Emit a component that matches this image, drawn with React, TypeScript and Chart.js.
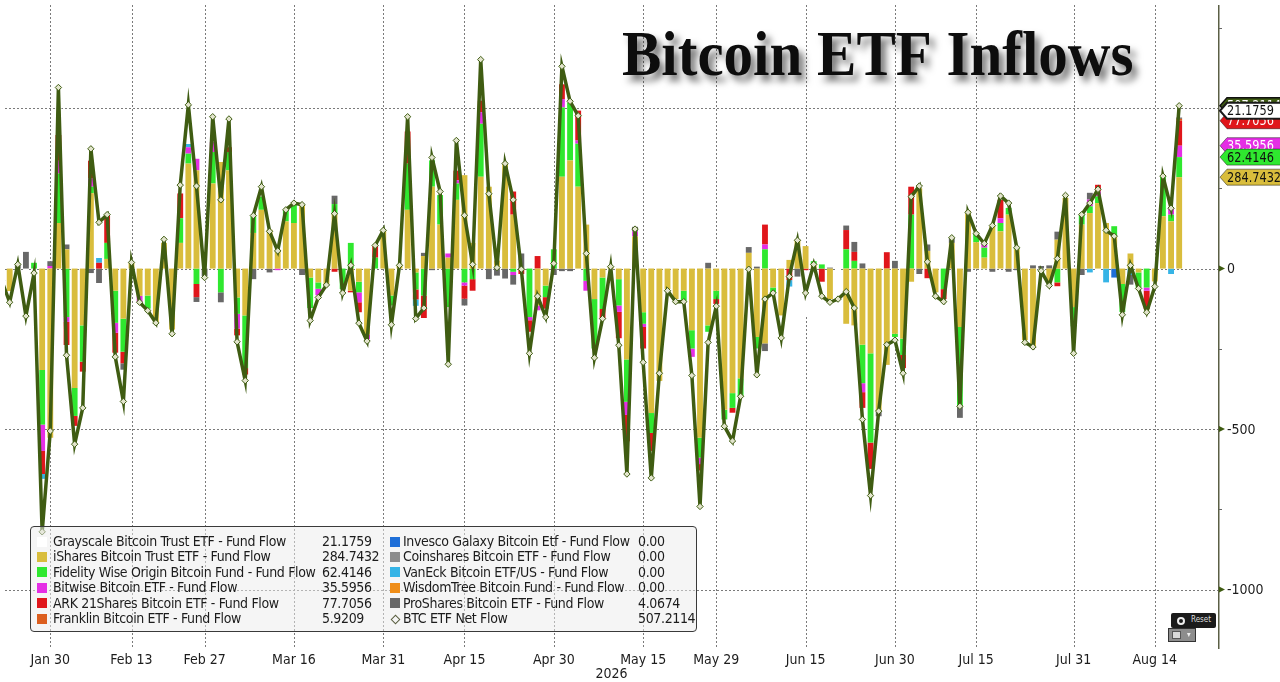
import React, { useEffect, useRef } from "react";
import { Chart, registerables } from "chart.js";

Chart.register(...registerables);

// ---------- data ----------
const title = "Bitcoin ETF Inflows";
const yearLabel = "2026";
const tickIndex = [6, 16, 25, 36, 47, 57, 68, 79, 88, 99, 110, 120, 132, 142];
const tickLabels = ["Jan 30", "Feb 13", "Feb 27", "Mar 16", "Mar 31", "Apr 15", "Apr 30", "May 15", "May 29", "Jun 15", "Jun 30", "Jul 15", "Jul 31", "Aug 14"];
const yGridValues = [500, 0, -500, -1000];
const yLabelValues = [0, -500, -1000];
const yMinorValues = [750, 250, -250, -750];

const netFlow = [
  -36,
  -105, 13, -148, -14, -820, -506, 564, -270, -547, -434,
  373, 144, 168, -275, -414, 19, -105, -131, -169, 91,
  -203, 260, 510, 257, -28, 473, 214, 466, -228, -349,
  165, 255, 116, 55, 183, 204, 199, -162, -90, -51,
  171, -76, 10, -170, -226, 72, 119, -175, 10, 473,
  -156, -123, 346, 240, -298, 399, 166, 13, 651, 233,
  3, 327, 214, -2, -264, -86, -151, 16, 630, 521,
  476, 47, -278, -156, 6, -239, -640, 123, -292, -652,
  -326, -69, -103, -103, -333, -741, -230, -117, -491, -537,
  -398, -2, -331, -95, -76, -216, -25, 88, -76, 13,
  -86, -105, -95, -72, -123, -470, -707, -444, -237, -223,
  -326, 224, 257, 21, -86, -103, 96, -429, 175, 109,
  78, 134, 226, 204, 65, -230, -244, -7, -53, 31,
  228, -264, 168, 204, 247, 119, 101, -144, 10, -62,
  -136, -56, 288, 188, 507.2114,
];

const iShares = [
  -30,
  -70, 0, 0, 0, -316, -527, 142, 60, -372, -177,
  235, 0, 30, -69, -156, 19, -85, -84, -167, 80,
  -190, 80, 327, 306, 0, 265, 332, 306, -90, -146,
  111, 183, 121, 60, 147, 142, 200, -28, -43, -48,
  170, 0, -69, -41, -205, 0, 119, -84, 10, 183,
  -12, 39, 255, 137, 34, 214, 291, 80, 286, 255,
  25, 330, 168, 0, 0, -115, -53, 0, 286, 337,
  255, 137, -95, -28, 6, -33, -283, 100, -136, -450,
  -350, -64, -95, -69, -192, -527, -177, -69, -440, -388,
  -342, 49, -213, -233, -59, -146, 27, 90, 70, 13,
  0, -95, 0, -172, -177, -237, -264, -445, -300, -203,
  -218, -41, 250, 55, -74, 0, 80, -182, 180, 82,
  34, 134, 116, 168, 60, -223, -244, 0, -40, 90,
  220, -120, 137, 173, 204, 142, 101, -48, 47, -12,
  0, -40, 163, 147, 284.7432,
];

const fidelity = [
  0,
  0, 0, 0, 18, -170, 0, 154, -151, -87, -113,
  20, 0, 50, -100, -103, 0, 0, -41, 0, 0,
  0, 77, 31, -48, 0, 98, -74, 57, -51, -164,
  51, 41, 0, 0, 36, 60, 0, -95, -20, 0,
  31, -64, 80, -33, 0, 34, 0, -31, 0, 144,
  -53, -84, 82, 92, -120, 51, -43, -33, 165, 0,
  0, 0, -10, 0, -151, 0, -36, 60, 216, 180,
  134, -38, -154, -98, 0, -82, -132, 0, -36, -62,
  0, 0, 0, -31, -57, -62, -20, -26, -30, -46,
  -57, 0, -36, 60, -15, 0, 0, 0, 0, 10,
  13, 0, 0, 60, 24, -120, -278, 0, 0, -10,
  -51, 168, 0, 0, 0, -64, 0, -247, 0, 27,
  31, 0, 26, 21, 5, 0, 0, 0, 0, -43,
  0, -60, 31, 21, 21, 0, 31, -87, 0, -47,
  -59, 0, 126, 21, 62.4146,
];

const bitwise = [
  0,
  0, 0, 0, 0, -82, 8, 40, -15, 0, 0,
  26, 0, 0, -31, 0, 0, -20, 0, 0, 0,
  0, 0, 20, 36, 0, 31, 0, 0, -46, 0,
  0, 0, 0, -5, 0, 0, 0, 0, -20, 0,
  0, 0, 0, -31, -15, 0, 0, 0, 0, 0,
  0, 0, 0, 0, 13, 10, -10, 0, 36, 0,
  0, 0, -10, 0, -10, -15, 0, 0, 26, 0,
  10, -31, 0, 0, 0, -20, -41, 15, -10, 0,
  0, 0, 0, 0, -26, -20, 0, 0, 0, 0,
  0, 0, 0, 15, 0, 0, 0, 0, 0, 0,
  0, 0, 0, 0, 0, -28, 0, 0, 0, 0,
  0, 0, 0, 0, 0, 0, 0, 0, 0, 0,
  15, 0, 15, 0, 0, 0, 0, 0, 0, 0,
  0, 0, 0, 21, 15, 0, 0, 0, 0, 0,
  -10, 0, 0, 21, 35.5956,
];

const ark = [
  0,
  0, 0, 0, 0, -72, 0, 80, -72, -31, -31,
  55, 18, 85, -62, -36, 0, 0, 0, 0, 0,
  0, 77, 0, -41, 0, 0, 0, 15, -21, -20,
  0, 0, 0, 0, 0, 0, 0, 0, 0, 0,
  -10, 0, -5, -31, 0, 36, 0, 0, 0, 100,
  -31, -70, 0, 0, 0, 30, -41, -36, 36, 0,
  0, 0, 72, -17, -36, 39, -36, 0, 46, 0,
  93, 0, 0, -31, 0, -82, -82, 0, -67, -56,
  0, 0, 0, 0, 0, -20, 0, -15, 0, -15,
  0, 0, 0, 62, 0, 0, -36, 0, -5, 0,
  -41, 0, 0, 60, 28, -49, -82, 0, 51, 0,
  -41, 87, 0, -30, 0, -31, 0, 0, 0, 0,
  0, 0, 57, 0, 0, 0, 0, 0, 0, -12,
  0, 0, 0, 0, 21, 0, 0, 0, 0, 0,
  -57, 0, 0, 0, 77.7056,
];

const franklin = [
  0,
  0, 0, 0, 0, 0, 0, 0, 0, 0, 0, 0, 0, 0, 0, 0, 0, 0, 0, 0, 0,
  0, 0, 0, 0, 0, 0, 0, 0, 0, 0, 0, 0, 0, 0, 0, 0, 0, 0, 0, 0,
  0, 0, 0, 0, 0, 0, 0, 0, 0, 0, 0, 0, 0, 0, 0, 0, 0, 0, 0, 0,
  0, 0, 0, 0, 0, 0, 0, 0, 0, 0, 0, 0, 0, 0, 0, 0, 0, 0, 0, 0,
  0, 0, 0, 0, 0, 0, 0, 0, 0, 0, 0, 0, 0, 0, 0, 0, 0, 0, 0, 0,
  0, 0, 0, 0, 0, 0, 0, 0, 0, 0, 0, 0, 0, 0, 0, 0, 0, 0, 0, 0,
  0, 0, 0, 0, 0, 0, 0, 0, 0, 0, 0, 0, 0, 0, 0, 0, 0, 0, 0, 0,
  0, 0, 0, 0, 5.9209,
];

const invesco = [
  0,
  0, 0, 0, 0, 0, 0, 0, 0, 0, 0, 0, 0, 0, 0, 0, 0, 0, 0, 0, 0,
  0, 0, 0, 0, 0, 0, 0, 0, 0, 0, 0, 0, 0, 0, 0, 0, 0, 0, 0, 0,
  0, 0, 0, 0, 0, 0, 0, 0, 0, 0, 0, 0, 0, 0, 0, 0, 0, 0, 0, 0,
  0, 0, 0, 0, 0, 0, 0, 0, 0, 0, 0, 0, 0, 0, 0, 0, 0, 0, 0, 0,
  0, 0, 0, 0, 0, 0, 0, 0, 0, 0, 0, 0, 0, 0, 0, 0, 0, 0, 0, 0,
  0, 0, 0, 0, 0, 0, 0, 0, 0, 0, 0, 0, 0, 0, 0, 0, 0, 0, 0, 0,
  0, 0, 0, 0, 0, 0, 0, 0, 0, 0, 0, 0, 0, 0, 0, 0, -28, 0, 0, 0,
  0, 0, 0, 0, 0,
];

const vanEck = [
  0,
  0, 0, 0, 0, -15, 0, 0, 0, 0, 0, 0, 15, 0, 0, 0, 0, 0, 0, 0, 0,
  0, 0, 10, 0, 0, 0, 0, 0, 0, 0, 0, 0, 0, 0, 0, 0, 0, 0, 0, 0,
  0, 0, 0, 0, 0, 0, 0, 0, 0, 0, -20, 0, 0, 0, 0, 0, 0, 0, 0, 0,
  0, 0, 0, 0, 0, 0, 0, 0, 0, 0, 0, 0, 0, 0, 0, 0, 0, 0, 0, 0,
  0, 0, 0, 0, 0, 0, 0, 0, 0, 0, 0, 0, 0, 0, 0, 0, -20, 0, 0, 0,
  0, 0, 0, 0, 0, 0, 0, 0, 0, 0, 0, 0, 0, 0, 0, 0, 0, 0, 0, 0,
  0, 0, 0, 0, 0, 0, 0, 0, 0, 0, 0, 0, 0, -12, 0, -43, 0, 0, -20, 0,
  0, 0, 0, -17, 0,
];

const wisdomTree = [
  0,
  0, 0, 0, 0, 0, 0, 0, 0, 0, 0, 0, 0, 0, 0, 0, 0, 0, 0, 0, 0,
  0, 0, 0, 0, 0, 0, 0, 0, 0, 0, 0, 0, 0, 0, 0, 0, 0, 0, 0, 0,
  0, 0, 0, 0, 0, 0, 0, 0, 0, 0, 0, 0, 0, 0, 0, 0, 0, 0, 0, 0,
  0, 0, 0, 0, 0, 0, 0, 0, 0, 0, 0, 0, 0, 0, 0, 0, 0, 0, 0, 0,
  0, 0, 0, 0, 0, 0, 0, 0, 0, 0, 0, 0, 0, 0, 0, 0, 0, 0, 0, 0,
  0, 0, 0, 0, 0, 0, 0, 0, 0, 0, 0, 0, 0, 0, 0, 0, 0, 0, 0, 0,
  0, 0, 0, 0, 0, 0, 0, 0, 0, 0, 0, 0, 0, 0, 0, 0, 0, 0, 0, 0,
  0, 0, 0, 0, 0,
];

const coinshares = [
  0,
  0, 0, 0, 0, 0, 0, 0, 0, 0, 0, 0, 0, 0, 0, 0, 0, 0, 0, 0, 0,
  0, 0, 0, 0, 0, 0, 0, 0, 0, 0, 0, 0, 0, 0, 0, 0, 0, 0, 0, 0,
  0, 0, 0, 0, 0, 0, 0, 0, 0, 0, 0, 0, 0, 0, 0, 0, 0, 0, 0, 0,
  0, 0, 0, 0, 0, 0, 0, 0, 0, 0, 0, 0, 0, 0, 0, 0, 0, 0, 0, 0,
  0, 0, 0, 0, 0, 0, 0, 0, 0, 0, 0, 0, 0, 0, 0, 0, 0, 0, 0, 0,
  0, 0, 0, 0, 0, 0, 0, 0, 0, 0, 0, 0, 0, 0, 0, 0, 0, 0, 0, 0,
  0, 0, 0, 0, 0, 0, 0, 0, 0, 0, 0, 0, 0, 0, 0, 0, 0, 0, 0, 0,
  0, 0, 0, 0, 0,
];

const proShares = [
  0,
  0, 15, 52, 0, 0, 15, 0, 15, 0, 0,
  -14, -45, 0, 0, -20, 0, 0, 0, 0, 0,
  0, 0, 0, -15, -23, 0, -31, 0, 0, 0,
  -33, 0, -12, 0, 0, 0, -20, 0, 0, 0,
  26, 0, 0, 0, 0, 0, 0, 0, 0, 0,
  0, 10, -5, 0, 0, 0, -21, 0, 0, -33,
  -22, -31, -30, 47, 0, 0, 0, -20, -8, -8,
  0, 0, 0, 0, 0, 0, 0, 15, 0, 0,
  0, 0, 0, 0, 0, 0, 18, 0, 0, 0,
  0, 18, 6, -24, 0, 0, 0, -25, 0, 0,
  0, 3, 0, 14, 31, 16, 0, -15, 0, 24,
  0, 0, -17, 20, 0, 0, 15, -36, -10, 0,
  0, -10, 0, -10, -5, 0, 10, 8, 10, 25,
  0, 0, -20, 21, 0, 0, 0, 0, -30, 0,
  0, 0, 0, 0, 4.0674,
];

const grayscale = [
  -6,
  -35, -2, -200, -32, -165, -2, 148, -107, -57, -113,
  51, 156, 3, -13, -99, 0, 0, -6, -2, 11,
  -13, 26, 122, 19, -5, 79, -13, 88, -20, -19,
  36, 31, 7, 0, 0, 2, 19, -39, -7, -3,
  -46, -12, 4, -34, -6, 2, 0, -60, 0, 46,
  -40, -18, 14, 11, -225, 94, -10, 2, 128, 11,
  0, 28, 24, -32, -67, 5, -26, -24, 64, 12,
  -16, -21, -29, 1, 0, -22, -102, -7, -43, -84,
  24, -5, -8, -3, -58, -112, -51, -7, -21, -88,
  1, -69, -88, 25, -2, -70, 4, 23, -141, -10,
  -58, -13, -95, -34, -29, -52, -83, 16, 12, -34,
  -16, 10, 24, -24, -12, -8, 1, 36, 5, 0,
  -2, 10, 12, 25, 5, -7, -10, -15, -23, -29,
  8, -84, 20, -20, -14, 20, -3, -9, 13, -3,
  -10, -16, -1, 16, 21.1759,
];

// ---------- styling ----------
const FONT = '"Liberation Sans Narrow", "Arial Narrow", "DejaVu Sans Condensed", sans-serif';
const LINE_COLOR = "#3f5c12";
const X_MIN = 0.424;
const X_MAX = 149.78;
const Y_MIN = -1185;
const Y_MAX = 821;

type Series = { key: string; name: string; data: number[]; color: string; tagText?: string };

const S: Record<string, Series> = {
  grayscale: { key: "grayscale", name: "Grayscale Bitcoin Trust ETF - Fund Flow", data: grayscale, color: "#ffffff", tagText: "#111" },
  iShares: { key: "iShares", name: "iShares Bitcoin Trust ETF - Fund Flow", data: iShares, color: "#d9bd3c", tagText: "#111" },
  fidelity: { key: "fidelity", name: "Fidelity Wise Origin Bitcoin Fund - Fund Flow", data: fidelity, color: "#2fe82f", tagText: "#111" },
  bitwise: { key: "bitwise", name: "Bitwise Bitcoin ETF - Fund Flow", data: bitwise, color: "#e52ee5", tagText: "#fff" },
  ark: { key: "ark", name: "ARK 21Shares Bitcoin ETF - Fund Flow", data: ark, color: "#e0161b", tagText: "#fff" },
  franklin: { key: "franklin", name: "Franklin Bitcoin ETF - Fund Flow", data: franklin, color: "#dc5e1e" },
  invesco: { key: "invesco", name: "Invesco Galaxy Bitcoin Etf - Fund Flow", data: invesco, color: "#1f6fd8" },
  coinshares: { key: "coinshares", name: "Coinshares Bitcoin ETF - Fund Flow", data: coinshares, color: "#8c8c8c" },
  vanEck: { key: "vanEck", name: "VanEck Bitcoin ETF/US - Fund Flow", data: vanEck, color: "#36b4e6" },
  wisdomTree: { key: "wisdomTree", name: "WisdomTree Bitcoin Fund - Fund Flow", data: wisdomTree, color: "#ef8d18" },
  proShares: { key: "proShares", name: "ProShares Bitcoin ETF - Fund Flow", data: proShares, color: "#686868" },
};

const stackOrder = ["iShares", "fidelity", "bitwise", "ark", "franklin", "invesco", "vanEck", "wisdomTree", "coinshares", "proShares", "grayscale"];
const legendCol1 = ["grayscale", "iShares", "fidelity", "bitwise", "ark", "franklin"];
const legendCol2 = ["invesco", "coinshares", "vanEck", "wisdomTree", "proShares"];
const tagOrder = ["ark", "grayscale", "bitwise", "fidelity", "iShares"];

const fmt = (v: number) => (v === 0 ? "0.00" : v.toFixed(4));
const last = (a: number[]) => a[a.length - 1];

function drawTag(ctx: CanvasRenderingContext2D, x: number, yc: number, fill: string, stroke: string, text: string, textColor: string, lw = 1) {
  const h = 8;
  ctx.save();
  ctx.beginPath();
  ctx.moveTo(x, yc);
  ctx.lineTo(x + 7, yc - h);
  ctx.lineTo(x + 80, yc - h);
  ctx.lineTo(x + 80, yc + h);
  ctx.lineTo(x + 7, yc + h);
  ctx.closePath();
  ctx.fillStyle = fill;
  ctx.fill();
  ctx.lineWidth = lw;
  ctx.strokeStyle = stroke;
  ctx.stroke();
  ctx.fillStyle = textColor;
  ctx.font = `14px ${FONT}`;
  ctx.textBaseline = "middle";
  ctx.textAlign = "left";
  ctx.translate(x + 7, yc + 1);
  ctx.scale(0.9, 1);
  ctx.fillText(text, 0, 0);
  ctx.restore();
}

const decor = {
  id: "decor",
  beforeDatasetsDraw(chart: any) {
    const { ctx, chartArea: a, scales } = chart;
    const x = scales.x, y = scales.y;
    ctx.save();
    ctx.strokeStyle = "#7a7a7a";
    ctx.lineWidth = 1;
    ctx.setLineDash([2, 2]);
    for (const v of tickIndex) {
      const px = Math.round(x.getPixelForValue(v)) + 0.5;
      ctx.beginPath();
      ctx.moveTo(px, a.top);
      ctx.lineTo(px, a.bottom);
      ctx.stroke();
    }
    for (const v of yGridValues) {
      const py = Math.round(y.getPixelForValue(v)) + 0.5;
      ctx.beginPath();
      ctx.moveTo(a.left, py);
      ctx.lineTo(a.right, py);
      ctx.stroke();
    }
    ctx.restore();
  },
  afterDraw(chart: any) {
    const { ctx, chartArea: a, scales } = chart;
    const x = scales.x, y = scales.y;
    ctx.save();
    // y axis line
    ctx.strokeStyle = "#5b5f45";
    ctx.lineWidth = 1.5;
    ctx.beginPath();
    ctx.moveTo(a.right + 0.75, a.top);
    ctx.lineTo(a.right + 0.75, a.bottom);
    ctx.stroke();
    // minor ticks
    ctx.lineWidth = 1;
    ctx.strokeStyle = "#666";
    for (const v of yMinorValues) {
      const py = Math.round(y.getPixelForValue(v)) + 0.5;
      ctx.beginPath();
      ctx.moveTo(a.right + 1, py);
      ctx.lineTo(a.right + 4, py);
      ctx.stroke();
    }
    // major tick arrows + labels
    ctx.font = `14px ${FONT}`;
    ctx.textBaseline = "middle";
    ctx.textAlign = "left";
    for (const v of yLabelValues) {
      const py = y.getPixelForValue(v);
      ctx.fillStyle = "#3f5c12";
      ctx.beginPath();
      ctx.moveTo(a.right + 1, py - 3);
      ctx.lineTo(a.right + 7, py);
      ctx.lineTo(a.right + 1, py + 3);
      ctx.closePath();
      ctx.fill();
      ctx.fillStyle = "#1c1c1c";
      ctx.fillText(String(v), a.right + 9, py + 1);
    }
    // x labels
    ctx.textAlign = "center";
    ctx.fillStyle = "#1c1c1c";
    tickIndex.forEach((v, i) => {
      ctx.fillText(tickLabels[i], x.getPixelForValue(v), a.bottom + 11);
    });
    ctx.fillText(yearLabel, (a.left + a.right) / 2, a.bottom + 25);
    // title
    ctx.save();
    ctx.font = `bold 59px "Liberation Serif", "Times New Roman", serif`;
    ctx.textAlign = "left";
    ctx.textBaseline = "alphabetic";
    ctx.shadowColor = "rgba(0,0,0,0.55)";
    ctx.shadowBlur = 7;
    ctx.shadowOffsetX = 5;
    ctx.shadowOffsetY = 6;
    ctx.fillStyle = "#0d0d0d";
    ctx.translate(622, 75);
    ctx.scale(1, 1.08);
    ctx.fillText(title, 0, 0);
    ctx.restore();
    // value tags at right
    const lastIdx = netFlow.length - 1;
    const lineMeta = chart.getDatasetMeta(stackOrder.length);
    const netY = lineMeta.data[lastIdx].y;
    drawTag(ctx, a.right + 2, netY, LINE_COLOR, "#111", fmt(last(netFlow)), "#fff", 1.5);
    for (const k of tagOrder) {
      const di = stackOrder.indexOf(k);
      const el = chart.getDatasetMeta(di).data[lastIdx];
      const s = S[k];
      const isGray = k === "grayscale";
      drawTag(ctx, a.right + 2, el.y, s.color, isGray ? "#1a1a1a" : "rgba(0,0,0,0.45)", fmt(last(s.data)), s.tagText || "#111", isGray ? 2 : 1);
    }
    ctx.restore();
  },
};

const txt: React.CSSProperties = { position: "absolute", whiteSpace: "nowrap", lineHeight: "15px", letterSpacing: "-0.35px" };

function LegendRow({ left, top, swatch, label, value, valueLeft }: any) {
  return (
    <>
      {swatch}
      <span style={{ ...txt, left, top }}>{label}</span>
      <span style={{ ...txt, left: valueLeft, top }}>{value}</span>
    </>
  );
}

export default function App() {
  const ref = useRef<HTMLCanvasElement>(null);

  useEffect(() => {
    document.body.style.margin = "0";
    const canvas = ref.current;
    if (!canvas) return;
    const barSets = stackOrder.map((k) => ({
      type: "bar" as const,
      label: S[k].name,
      data: S[k].data.map((v, i) => ({ x: i, y: v })),
      backgroundColor: S[k].color,
      borderWidth: 0,
      barPercentage: 0.9,
      categoryPercentage: 0.8,
      order: 2,
    }));
    const lineSet = {
      type: "line" as const,
      label: "BTC ETF Net Flow",
      data: netFlow.map((v, i) => ({ x: i, y: v })),
      borderColor: LINE_COLOR,
      borderWidth: 3.5,
      pointStyle: "rectRot" as const,
      pointRadius: 3.2,
      pointBackgroundColor: "#e2e4cc",
      pointBorderColor: LINE_COLOR,
      pointBorderWidth: 1,
      tension: 0,
      order: 1,
      stack: "net",
    };
    const chart = new Chart(canvas, {
      type: "bar",
      data: { datasets: [...barSets, lineSet] as any },
      options: {
        animation: false,
        responsive: false,
        devicePixelRatio: 1,
        layout: { padding: 0 },
        plugins: { legend: { display: false }, tooltip: { enabled: false } },
        scales: {
          x: {
            type: "linear",
            min: X_MIN,
            max: X_MAX,
            offset: false,
            stacked: true,
            grid: { display: false, offset: false },
            border: { display: false },
            ticks: { display: false },
            afterFit: (s: any) => {
              s.height = 33;
            },
          },
          y: {
            type: "linear",
            position: "right",
            min: Y_MIN,
            max: Y_MAX,
            stacked: true,
            grid: { display: false },
            border: { display: false },
            ticks: { display: false },
            afterFit: (s: any) => {
              s.width = 62;
            },
          },
        },
      } as any,
      plugins: [decor],
    });
    return () => chart.destroy();
  }, []);

  const rowTop = (r: number) => 534 + r * 15.4;
  const sw = (left: number, top: number, color: string) => (
    <span style={{ position: "absolute", left, top: top + 2.5, width: 10, height: 10, background: color }} />
  );

  return (
    <div style={{ position: "absolute", left: 0, top: 0, width: 1280, height: 682, background: "#fff", overflow: "hidden", fontFamily: FONT, fontSize: 14, color: "#1c1c1c" }}>
      <canvas ref={ref} width={1280} height={682} style={{ position: "absolute", left: 0, top: 0 }} />
      <div style={{ position: "absolute", left: 30, top: 526, width: 667, height: 106, border: "1.5px solid #3a3a3a", borderRadius: 4, background: "rgba(236,236,236,0.5)", boxSizing: "border-box" }} />
      {legendCol1.map((k, r) => (
        <LegendRow key={k} left={53} valueLeft={322} top={rowTop(r)} swatch={sw(37, rowTop(r), S[k].color)} label={S[k].name} value={fmt(last(S[k].data))} />
      ))}
      {legendCol2.map((k, r) => (
        <LegendRow key={k} left={403} valueLeft={638} top={rowTop(r)} swatch={sw(390, rowTop(r), S[k].color)} label={S[k].name} value={fmt(last(S[k].data))} />
      ))}
      <span style={{ position: "absolute", left: 392, top: rowTop(5) + 5, width: 5, height: 5, border: "1px solid #5a5f40", transform: "rotate(45deg)" }} />
      <LegendRow left={403} valueLeft={638} top={rowTop(5)} swatch={null} label="BTC ETF Net Flow" value={fmt(last(netFlow))} />
      {/* Reset widget */}
      <div style={{ position: "absolute", left: 1171, top: 613, width: 45, height: 15, background: "#1b1b1b", borderRadius: 2 }}>
        <span style={{ position: "absolute", left: 6, top: 4, width: 4, height: 4, border: "2px solid #eee", borderRadius: "50%" }} />
        <span style={{ position: "absolute", left: 20, top: 2, fontSize: 8, color: "#ddd", lineHeight: "10px" }}>Reset</span>
      </div>
      <div style={{ position: "absolute", left: 1168, top: 628, width: 28, height: 14, background: "#8d8d8d", border: "1px solid #333", boxSizing: "border-box" }}>
        <span style={{ position: "absolute", left: 3, top: 2, width: 9, height: 8, background: "#d8d8d8", border: "1px solid #555", boxSizing: "border-box" }} />
        <span style={{ position: "absolute", left: 18, top: 0, fontSize: 8, color: "#eee", lineHeight: "12px" }}>▾</span>
      </div>
    </div>
  );
}
